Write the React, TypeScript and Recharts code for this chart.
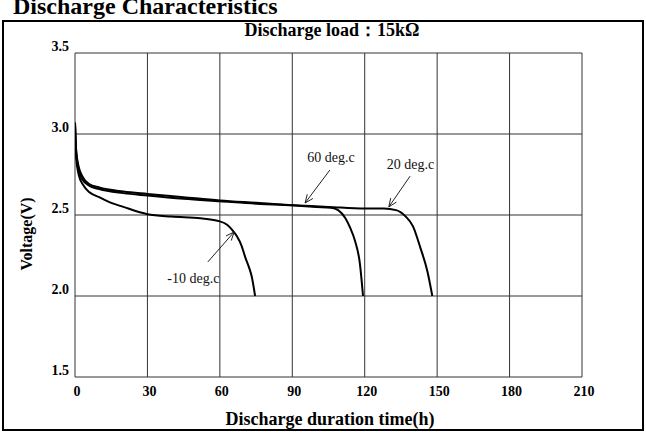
import { LineChart, Line, XAxis, YAxis, CartesianGrid, ReferenceLine, ReferenceDot } from 'recharts';

const xTicks = [0, 30, 60, 90, 120, 150, 180, 210];
const yTicks = [1.5, 2.0, 2.5, 3.0, 3.5];

// 20 deg.c
const hours20 = [0, 0.5, 1.5, 3, 6, 10, 20, 30, 45, 60, 75, 90, 105, 120, 128, 133, 137, 140, 143, 146, 148];
const volts20 = [3.07, 2.88, 2.78, 2.72, 2.68, 2.66, 2.635, 2.62, 2.6, 2.585, 2.57, 2.56, 2.55, 2.54, 2.54, 2.53, 2.49, 2.43, 2.3, 2.15, 2.0];

// 60 deg.c
const hours60 = [0, 0.5, 1.5, 3, 6, 10, 20, 30, 45, 60, 75, 90, 100, 106, 109, 112, 114, 116, 118, 119.3];
const volts60 = [3.07, 2.9, 2.8, 2.74, 2.69, 2.67, 2.645, 2.63, 2.61, 2.59, 2.575, 2.56, 2.55, 2.545, 2.53, 2.48, 2.42, 2.34, 2.2, 2.0];

// -10 deg.c
const hoursM10 = [0, 0.5, 1.5, 3.4, 6, 10, 15, 20, 30, 40, 52, 59, 63, 65, 67, 69, 70.5, 72, 73.2, 74.6];
const voltsM10 = [3.07, 2.85, 2.75, 2.685, 2.64, 2.61, 2.575, 2.55, 2.505, 2.49, 2.48, 2.465, 2.44, 2.41, 2.37, 2.31, 2.24, 2.18, 2.12, 2.0];

// annotations (data coordinates)
const noteLabels = ['60 deg.c', '20 deg.c', '-10 deg.c'];
const noteTextX = [106, 139, 49];
const noteTextY = [2.858, 2.81, 2.105];
const arrowFromX = [105.6, 138.8, 55];
const arrowFromY = [2.778, 2.74, 2.21];
const arrowToX = [95.3, 130, 65.9];
const arrowToY = [2.574, 2.55, 2.395];

const toRows = (xs: number[], ys: number[]) => xs.map((h, i) => ({ h, v: ys[i] }));

const serif = '"Liberation Serif", "Times New Roman", serif';

const YTick = ({ x, y, payload }: any) => (
  <text x={x} y={y - 7} textAnchor="end" dominantBaseline="central" fontFamily={serif} fontWeight="bold" fontSize={14} fill="#000">
    {Number(payload.value).toFixed(1)}
  </text>
);

const XTick = ({ x, y, payload }: any) => (
  <text x={x + 2} y={y + 6} textAnchor="middle" dominantBaseline="central" fontFamily={serif} fontWeight="bold" fontSize={14} fill="#000">
    {payload.value}
  </text>
);

const Arrow = (props: any) => {
  const { x1, y1, x2, y2 } = props;
  const ang = Math.atan2(y2 - y1, x2 - x1);
  const len = 9;
  const spread = 0.4;
  const ax = x2 - len * Math.cos(ang - spread);
  const ay = y2 - len * Math.sin(ang - spread);
  const bx = x2 - len * Math.cos(ang + spread);
  const by = y2 - len * Math.sin(ang + spread);
  return (
    <g stroke="#222" strokeWidth={1} fill="none">
      <line x1={x1} y1={y1} x2={x2} y2={y2} />
      <path d={`M${ax},${ay} L${x2},${y2} L${bx},${by}`} />
    </g>
  );
};

const NoteText = (label: string) => (props: any) => (
  <text x={props.cx} y={props.cy} textAnchor="middle" dominantBaseline="central" fontFamily={serif} fontSize={14} fill="#111">
    {label}
  </text>
);

export default function App() {
  return (
    <div style={{ position: 'absolute', left: 0, top: 0, width: 646, height: 434, background: '#fff', overflow: 'hidden' }}>
      <div style={{ position: 'absolute', left: 2, top: 20, width: 642, height: 411, border: '2px solid #000', boxSizing: 'border-box' }} />
      <svg width={646} height={434} style={{ position: 'absolute', left: 0, top: 0 }}>
        <text x={13} y={14} fontFamily={serif} fontWeight="bold" fontSize={24} fill="#000">Discharge Characteristics</text>
        <text x={332} y={36} textAnchor="middle" fontFamily={serif} fontWeight="bold" fontSize={18} fill="#000">Discharge load：15kΩ</text>
        <text x={330} y={425} textAnchor="middle" fontFamily={serif} fontWeight="bold" fontSize={18} fill="#000">Discharge duration time(h)</text>
        <text x={0} y={0} transform="translate(32,234) rotate(-90)" textAnchor="middle" fontFamily={serif} fontWeight="bold" fontSize={16} fill="#000">Voltage(V)</text>
      </svg>
      <div style={{ position: 'absolute', left: 0, top: 0 }}>
        <LineChart width={646} height={434} margin={{ top: 53, right: 64, bottom: 0, left: 0 }}>
          <CartesianGrid stroke="#333" strokeWidth={1} horizontalValues={yTicks} verticalValues={xTicks} />
          <XAxis dataKey="h" type="number" domain={[0, 210]} ticks={xTicks} height={57} axisLine={false} tickLine={false} tickSize={0} tickMargin={8} tick={<XTick />} interval={0} allowDataOverflow />
          <YAxis type="number" domain={[1.5, 3.5]} ticks={yTicks} width={75} axisLine={false} tickLine={false} tickSize={0} tickMargin={6} tick={<YTick />} interval={0} allowDataOverflow />
          <Line data={toRows(hours20, volts20)} dataKey="v" type="monotone" stroke="#000" strokeWidth={2} dot={false} isAnimationActive={false} />
          <Line data={toRows(hours60, volts60)} dataKey="v" type="monotone" stroke="#000" strokeWidth={2} dot={false} isAnimationActive={false} />
          <Line data={toRows(hoursM10, voltsM10)} dataKey="v" type="monotone" stroke="#000" strokeWidth={2} dot={false} isAnimationActive={false} />
          {noteLabels.map((lab, i) => (
            <ReferenceLine key={'a' + i} segment={[{ x: arrowFromX[i], y: arrowFromY[i] }, { x: arrowToX[i], y: arrowToY[i] }]} shape={Arrow} />
          ))}
          {noteLabels.map((lab, i) => (
            <ReferenceDot key={'t' + i} x={noteTextX[i]} y={noteTextY[i]} r={0} shape={NoteText(lab)} />
          ))}
        </LineChart>
      </div>
    </div>
  );
}
